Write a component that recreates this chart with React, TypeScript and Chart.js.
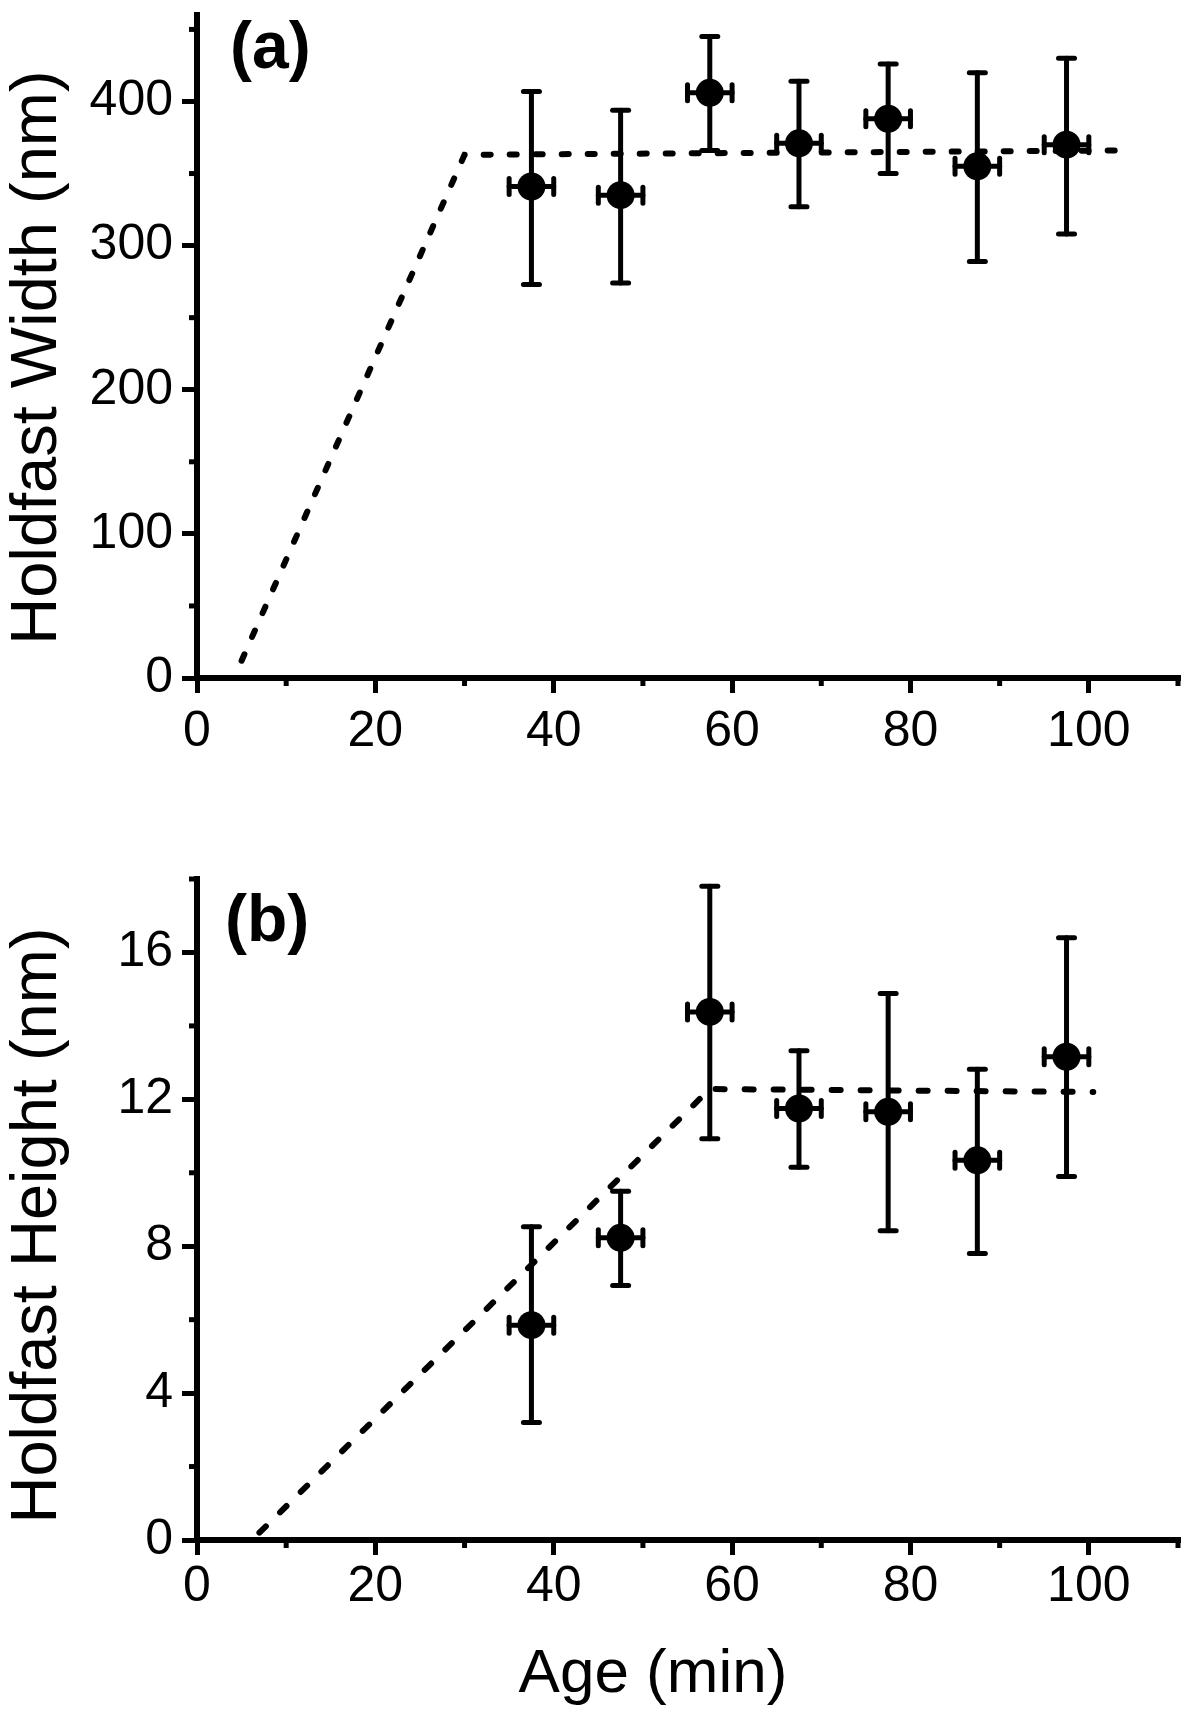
import React, { useEffect, useRef } from "react";
import { Chart, registerables } from "chart.js";

Chart.register(...registerables);

const FONT = '"Liberation Sans", Arial, Helvetica, sans-serif';

// Shared x data (age bins, minutes)
const ageMin = [37.5, 47.5, 57.5, 67.5, 77.5, 87.5, 97.5];
const ageErr = [2.5, 2.5, 2.5, 2.5, 2.5, 2.5, 2.5];
const xMinorTicks = [10, 30, 50, 70, 90, 110];

// Panel (a): holdfast width (nm)
const widthMean = [341, 335, 406, 371, 388, 355, 370];
const widthUpper = [407, 394, 445, 414, 426, 420, 430];
const widthLower = [273, 274, 366, 327, 350, 289, 308];
const widthFitAge = [5, 30, 104];
const widthFitValue = [12, 363, 366];
const widthMinorTicks = [50, 150, 250, 350, 450];

// Panel (b): holdfast height (nm)
const heightMean = [5.85, 8.23, 14.38, 11.75, 11.66, 10.34, 13.16];
const heightUpper = [8.53, 9.5, 17.8, 13.32, 14.88, 12.82, 16.4];
const heightLower = [3.2, 6.93, 10.93, 10.15, 8.42, 7.8, 9.9];
const heightFitAge = [7, 57.5, 100.5];
const heightFitValue = [0.2, 12.28, 12.2];
const heightMinorTicks = [2, 6, 10, 14, 18];

type PanelSpec = {
  canvasHeight: number;
  padTop: number;
  xAxisHeight: number;
  yMax: number;
  yStep: number;
  yMinor: number[];
  mean: number[];
  upper: number[];
  lower: number[];
  fitX: number[];
  fitY: number[];
  dash: number[];
  yTitle: string;
  yTitleShift: number;
  panel: string;
  panelDx: number;
  panelDy: number;
  xTickPad: number;
  xTitle?: string;
  xTitleDy?: number;
};

function makeChart(canvas: HTMLCanvasElement, spec: PanelSpec) {
  const errorBars = {
    id: "errorBars",
    beforeDatasetsDraw(chart: any) {
      const { ctx } = chart;
      const xs = chart.scales.x;
      const ys = chart.scales.y;
      const line = (x1: number, y1: number, x2: number, y2: number) => {
        ctx.beginPath();
        ctx.moveTo(x1, y1);
        ctx.lineTo(x2, y2);
        ctx.stroke();
      };
      ctx.save();
      ctx.strokeStyle = "#000";
      ctx.lineWidth = 5;
      ctx.lineCap = "round";
      const cap = 8;
      ageMin.forEach((xv, i) => {
        const px = xs.getPixelForValue(xv);
        const py = ys.getPixelForValue(spec.mean[i]);
        const yHi = ys.getPixelForValue(spec.upper[i]);
        const yLo = ys.getPixelForValue(spec.lower[i]);
        const xL = xs.getPixelForValue(xv - ageErr[i]);
        const xR = xs.getPixelForValue(xv + ageErr[i]);
        line(px, yHi, px, yLo);
        line(px - cap, yHi, px + cap, yHi);
        line(px - cap, yLo, px + cap, yLo);
        line(xL, py, xR, py);
        line(xL, py - cap, xL, py + cap);
        line(xR, py - cap, xR, py + cap);
      });
      ctx.restore();
    },
  };

  const decorations = {
    id: "decorations",
    afterDraw(chart: any) {
      const { ctx, chartArea } = chart;
      const xs = chart.scales.x;
      const ys = chart.scales.y;
      ctx.save();
      // minor ticks
      ctx.strokeStyle = "#000";
      ctx.lineWidth = 5;
      ctx.lineCap = "butt";
      xMinorTicks.forEach((v) => {
        const p = xs.getPixelForValue(v);
        ctx.beginPath();
        ctx.moveTo(p, chartArea.bottom);
        ctx.lineTo(p, chartArea.bottom + 8);
        ctx.stroke();
      });
      spec.yMinor.forEach((v) => {
        const p = ys.getPixelForValue(v);
        ctx.beginPath();
        ctx.moveTo(chartArea.left, p);
        ctx.lineTo(chartArea.left - 8, p);
        ctx.stroke();
      });
      ctx.fillStyle = "#000";
      // panel letter
      ctx.font = `bold 66px ${FONT}`;
      ctx.textAlign = "left";
      ctx.textBaseline = "alphabetic";
      ctx.fillText(spec.panel, chartArea.left + spec.panelDx, chartArea.top + spec.panelDy);
      // x title
      if (spec.xTitle) {
        ctx.font = `62px ${FONT}`;
        ctx.textAlign = "center";
        ctx.textBaseline = "middle";
        const cx = (xs.getPixelForValue(0) + xs.getPixelForValue(100)) / 2 + 10;
        ctx.fillText(spec.xTitle, cx, chartArea.bottom + (spec.xTitleDy || 0));
      }
      // y title
      ctx.translate(chartArea.left - 159, (chartArea.top + chartArea.bottom) / 2 + spec.yTitleShift);
      ctx.rotate(-Math.PI / 2);
      ctx.font = `65px ${FONT}`;
      ctx.textAlign = "center";
      ctx.textBaseline = "middle";
      ctx.fillText(spec.yTitle, 0, 0);
      ctx.restore();
    },
  };

  return new Chart(canvas, {
    type: "scatter",
    data: {
      datasets: [
        {
          label: "fit",
          data: spec.fitX.map((x, i) => ({ x, y: spec.fitY[i] })),
          showLine: true,
          borderColor: "#000",
          borderWidth: 6,
          borderDash: spec.dash,
          borderCapStyle: "round",
          pointRadius: 0,
          fill: false,
          tension: 0,
        } as any,
        {
          label: "mean",
          data: ageMin.map((x, i) => ({ x, y: spec.mean[i] })),
          pointRadius: 14,
          pointBackgroundColor: "#000",
          pointBorderColor: "#000",
          pointBorderWidth: 0,
          backgroundColor: "#000",
          borderColor: "#000",
        },
      ],
    },
    options: {
      responsive: false,
      animation: false,
      devicePixelRatio: 1,
      events: [],
      layout: { padding: { top: spec.padTop, right: 22, left: 0, bottom: 0 } },
      plugins: { legend: { display: false }, tooltip: { enabled: false } },
      scales: {
        x: {
          type: "linear",
          position: "bottom",
          min: 0,
          max: 110,
          ticks: {
            stepSize: 20,
            includeBounds: false,
            font: { family: FONT, size: 50 },
            color: "#000",
            padding: spec.xTickPad,
            maxRotation: 0,
            minRotation: 0,
            autoSkip: false,
          },
          grid: {
            display: true,
            drawOnChartArea: false,
            drawTicks: true,
            tickLength: 15,
            lineWidth: 5,
            color: "#000",
          },
          border: { display: true, width: 6, color: "#000" },
          afterFit: (s: any) => {
            s.height = spec.xAxisHeight;
            s.paddingLeft = 0;
            s.paddingRight = 0;
          },
        },
        y: {
          type: "linear",
          position: "left",
          min: 0,
          max: spec.yMax,
          ticks: {
            stepSize: spec.yStep,
            includeBounds: false,
            font: { family: FONT, size: 50 },
            color: "#000",
            padding: 9,
          },
          grid: {
            display: true,
            drawOnChartArea: false,
            drawTicks: true,
            tickLength: 15,
            lineWidth: 5,
            color: "#000",
          },
          border: { display: true, width: 6, color: "#000" },
          afterFit: (s: any) => {
            s.width = 197;
            s.paddingTop = 0;
            s.paddingBottom = 0;
          },
        },
      },
    } as any,
    plugins: [errorBars, decorations],
  });
}

export default function App() {
  const topRef = useRef<HTMLCanvasElement>(null);
  const botRef = useRef<HTMLCanvasElement>(null);

  useEffect(() => {
    const c1 = makeChart(topRef.current!, {
      canvasHeight: 790,
      padTop: 15,
      xAxisHeight: 112,
      yMax: 460,
      yStep: 100,
      yMinor: widthMinorTicks,
      mean: widthMean,
      upper: widthUpper,
      lower: widthLower,
      fitX: widthFitAge,
      fitY: widthFitValue,
      dash: [7, 19],
      yTitle: "Holdfast Width (nm)",
      yTitleShift: 11,
      panel: "(a)",
      panelDx: 33,
      panelDy: 53,
      xTickPad: 9,
    });
    const c2 = makeChart(botRef.current!, {
      canvasHeight: 925,
      padTop: 89,
      xAxisHeight: 175,
      yMax: 18,
      yStep: 4,
      yMinor: heightMinorTicks,
      mean: heightMean,
      upper: heightUpper,
      lower: heightLower,
      fitX: heightFitAge,
      fitY: heightFitValue,
      dash: [9, 20],
      yTitle: "Holdfast Height (nm)",
      yTitleShift: 16,
      panel: "(b)",
      panelDx: 28,
      panelDy: 62,
      xTickPad: 2,
      xTitle: "Age (min)",
      xTitleDy: 135,
    });
    return () => {
      c1.destroy();
      c2.destroy();
    };
  }, []);

  return (
    <div style={{ position: "absolute", left: 0, top: 0, width: 1200, height: 1715, background: "#fff" }}>
      <canvas ref={topRef} width={1200} height={790} style={{ position: "absolute", left: 0, top: 0 }} />
      <canvas ref={botRef} width={1200} height={925} style={{ position: "absolute", left: 0, top: 790 }} />
    </div>
  );
}
